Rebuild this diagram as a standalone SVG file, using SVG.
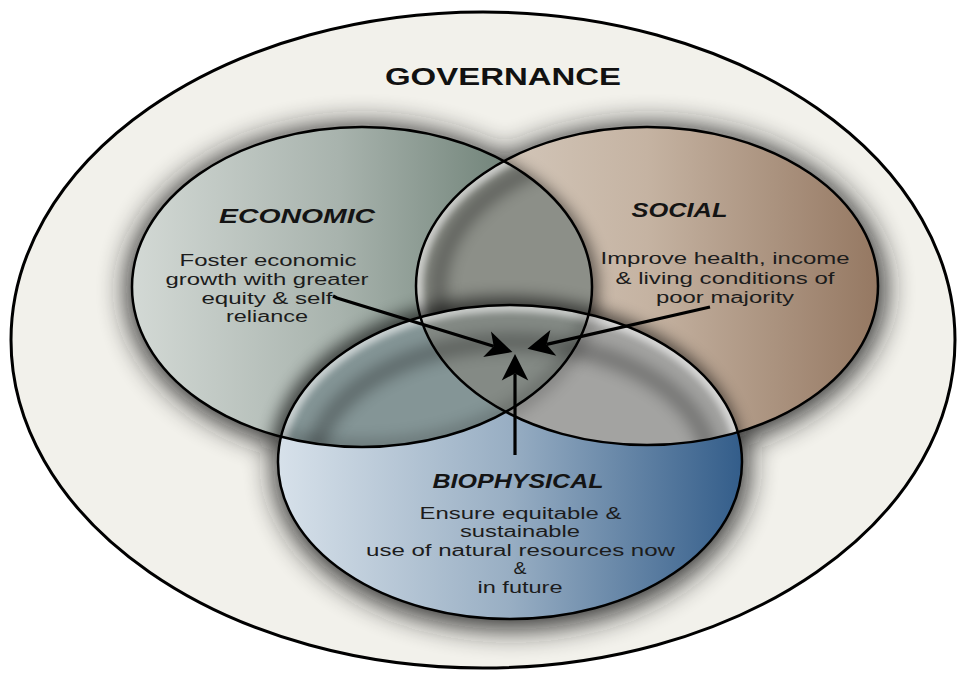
<svg xmlns="http://www.w3.org/2000/svg" width="959" height="677" viewBox="0 0 959 677">
  <style>
    .title { font-family: "Liberation Sans", Arial, sans-serif; font-weight: bold; font-size: 23.5px; fill: #111; }
    .head { font-family: "Liberation Sans", Arial, sans-serif; font-weight: bold; font-style: italic; font-size: 19.5px; fill: #141414; }
    .body { font-family: "Liberation Sans", Arial, sans-serif; font-size: 16px; fill: #1c1c1c; }
    .edge { fill: none; stroke: #000; stroke-width: 2.5; }
    .arrow { fill: none; stroke: #000; stroke-width: 3.2; marker-end: url(#head); }
  </style>
  <defs>
    <linearGradient id="gE" x1="0" y1="0" x2="1" y2="0">
      <stop offset="0" stop-color="#d3d9d5"/>
      <stop offset="0.45" stop-color="#a8b3ad"/>
      <stop offset="0.8" stop-color="#74867c"/>
      <stop offset="1" stop-color="#65786e"/>
    </linearGradient>
    <linearGradient id="gS" x1="0" y1="0" x2="1" y2="0">
      <stop offset="0" stop-color="#dad1c6"/>
      <stop offset="0.5" stop-color="#c5b3a2"/>
      <stop offset="1" stop-color="#957862"/>
    </linearGradient>
    <linearGradient id="gB" x1="0" y1="0" x2="1" y2="0">
      <stop offset="0" stop-color="#d7e1ea"/>
      <stop offset="0.5" stop-color="#98aec3"/>
      <stop offset="1" stop-color="#335d8a"/>
    </linearGradient>
    <clipPath id="cE"><ellipse cx="362" cy="287" rx="230" ry="160"/></clipPath>
    <clipPath id="cS"><ellipse cx="647" cy="286" rx="231" ry="159"/></clipPath>
    <clipPath id="cB"><ellipse cx="510" cy="462" rx="232" ry="157"/></clipPath>
    <clipPath id="cES">
      <ellipse cx="362" cy="287" rx="230" ry="160"/>
      <ellipse cx="647" cy="286" rx="231" ry="159"/>
    </clipPath>
    <filter id="halo" x="-20%" y="-20%" width="140%" height="140%">
      <feGaussianBlur stdDeviation="14"/>
    </filter>
    <filter id="soft" x="-20%" y="-20%" width="140%" height="140%">
      <feGaussianBlur stdDeviation="8"/>
    </filter>
    <filter id="rim" x="-20%" y="-20%" width="140%" height="140%">
      <feGaussianBlur stdDeviation="3"/>
    </filter>
    <marker id="head" markerUnits="userSpaceOnUse" markerWidth="30" markerHeight="30" viewBox="0 -13 24 26" refX="6" refY="0" orient="auto">
      <path d="M0,-11.5 L23,0 L0,11.5 L6,0 Z" fill="#000"/>
    </marker>
  </defs>

  <!-- governance boundary -->
  <g id="governance">
    <ellipse cx="483" cy="340" rx="472" ry="328" fill="#f2f1eb" stroke="#000" stroke-width="3"/>
    <text class="title" x="503" y="85" text-anchor="middle" textLength="236" lengthAdjust="spacingAndGlyphs">GOVERNANCE</text>
  </g>

  <!-- soft shadow under the three pillars -->
  <g id="shadow" filter="url(#halo)" opacity="0.88" fill="#1a1a1a">
    <ellipse cx="362" cy="290" rx="236" ry="166"/>
    <ellipse cx="649" cy="289" rx="237" ry="165"/>
    <ellipse cx="511" cy="467" rx="238" ry="163"/>
  </g>

  <!-- social pillar fill, shaded where the economic pillar lies on it -->
  <g id="social-fill">
    <ellipse cx="647" cy="286" rx="231" ry="159" fill="url(#gS)"/>
    <g clip-path="url(#cS)">
      <ellipse cx="366" cy="290" rx="232" ry="162" fill="#000" opacity="0.55" filter="url(#soft)"/>
    </g>
  </g>

  <!-- economic pillar fill -->
  <g id="economic-fill">
    <ellipse cx="362" cy="287" rx="230" ry="160" fill="url(#gE)"/>
    <!-- economic / social overlap -->
    <g clip-path="url(#cE)">
      <ellipse cx="647" cy="286" rx="231" ry="159" fill="#8c8f88"/>
      <g clip-path="url(#cS)">
        <ellipse cx="650" cy="288" rx="212" ry="142" fill="none" stroke="#000" stroke-width="14" opacity="0.38" filter="url(#soft)"/>
        <ellipse cx="647" cy="286" rx="231" ry="159" fill="none" stroke="#fff" stroke-width="14" opacity="0.55" filter="url(#rim)"/>
      </g>
    </g>
  </g>

  <!-- shadow of the biophysical pillar on the two above -->
  <g clip-path="url(#cES)">
    <ellipse cx="506" cy="458" rx="236" ry="161" fill="#000" opacity="0.6" filter="url(#soft)"/>
  </g>

  <!-- biophysical pillar fill and its overlaps -->
  <g id="biophysical-fill">
    <ellipse cx="510" cy="462" rx="232" ry="157" fill="url(#gB)"/>
    <g clip-path="url(#cB)">
      <ellipse cx="362" cy="287" rx="230" ry="160" fill="#849596"/>
      <ellipse cx="647" cy="286" rx="231" ry="159" fill="#a3a3a1"/>
      <g clip-path="url(#cE)">
        <ellipse cx="647" cy="286" rx="231" ry="159" fill="#848a85"/>
      </g>
      <g clip-path="url(#cES)">
        <ellipse cx="512" cy="470" rx="200" ry="128" fill="none" stroke="#000" stroke-width="16" opacity="0.32" filter="url(#soft)"/>
        <ellipse cx="510" cy="462" rx="232" ry="157" fill="none" stroke="#fff" stroke-width="14" opacity="0.55" filter="url(#rim)"/>
        <ellipse cx="362" cy="287" rx="230" ry="160" fill="none" stroke="#000" stroke-width="12" opacity="0.25" filter="url(#soft)"/>
      </g>
    </g>
  </g>

  <!-- outlines -->
  <g id="economic"><ellipse class="edge" cx="362" cy="287" rx="230" ry="160"/></g>
  <g id="social"><ellipse class="edge" cx="647" cy="286" rx="231" ry="159"/></g>
  <g id="biophysical"><ellipse class="edge" cx="510" cy="462" rx="232" ry="157"/></g>

  <!-- connectors -->
  <g id="connectors">
    <path class="arrow" d="M333,296 L337,298 L493.7,346.3"/>
    <path class="arrow" d="M710,307 L546.6,344.4"/>
    <path class="arrow" d="M515,455 L515,373.5"/>
  </g>

  <!-- labels -->
  <g id="economic-label">
    <text class="head" x="297" y="223" text-anchor="middle" textLength="156" lengthAdjust="spacingAndGlyphs">ECONOMIC</text>
    <text class="body" x="268" y="266" text-anchor="middle" textLength="177" lengthAdjust="spacingAndGlyphs">Foster economic</text>
    <text class="body" x="267" y="285" text-anchor="middle" textLength="203" lengthAdjust="spacingAndGlyphs">growth with greater</text>
    <text class="body" x="267" y="303.5" text-anchor="middle" textLength="131" lengthAdjust="spacingAndGlyphs">equity &amp; self</text>
    <text class="body" x="267" y="322" text-anchor="middle" textLength="82" lengthAdjust="spacingAndGlyphs">reliance</text>
  </g>
  <g id="social-label">
    <text class="head" x="679.5" y="217" text-anchor="middle" textLength="96" lengthAdjust="spacingAndGlyphs">SOCIAL</text>
    <text class="body" x="725" y="263.5" text-anchor="middle" textLength="249" lengthAdjust="spacingAndGlyphs">Improve health, income</text>
    <text class="body" x="725" y="283.5" text-anchor="middle" textLength="219" lengthAdjust="spacingAndGlyphs">&amp; living conditions of</text>
    <text class="body" x="725" y="302.5" text-anchor="middle" textLength="138" lengthAdjust="spacingAndGlyphs">poor majority</text>
  </g>
  <g id="biophysical-label">
    <text class="head" x="518" y="487.5" text-anchor="middle" textLength="171" lengthAdjust="spacingAndGlyphs">BIOPHYSICAL</text>
    <text class="body" x="520.5" y="518.5" text-anchor="middle" textLength="202" lengthAdjust="spacingAndGlyphs">Ensure equitable &amp;</text>
    <text class="body" x="520" y="537" text-anchor="middle" textLength="120" lengthAdjust="spacingAndGlyphs">sustainable</text>
    <text class="body" x="520.5" y="555.5" text-anchor="middle" textLength="309" lengthAdjust="spacingAndGlyphs">use of natural resources now</text>
    <text class="body" x="520" y="574" text-anchor="middle" textLength="13" lengthAdjust="spacingAndGlyphs">&amp;</text>
    <text class="body" x="520" y="592.5" text-anchor="middle" textLength="85" lengthAdjust="spacingAndGlyphs">in future</text>
  </g>
</svg>
